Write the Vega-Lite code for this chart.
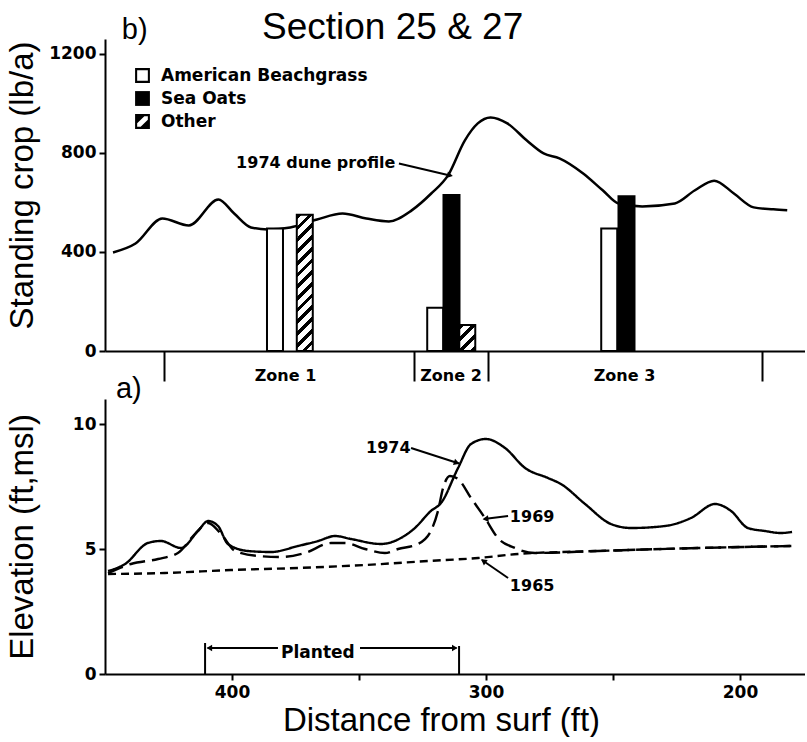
{
  "$schema": "https://vega.github.io/schema/vega-lite/v6.json",
  "autosize": {"type": "pad"},
  "padding": {"left": 5, "top": 8, "right": 0, "bottom": 0},
  "background": "white",
  "bounds": "flush",
  "spacing": 48,
  "title": {"text": "Section 25 & 27", "font": "Liberation Sans", "fontSize": 37, "fontWeight": "normal", "color": "black", "anchor": "start", "frame": "group", "dx": 157, "offset": -31},
  "config": {
    "view": {"stroke": null},
    "axis": {"domainColor": "black", "domainWidth": 2, "tickColor": "black", "tickWidth": 2, "labelFont": "DejaVu Sans", "labelFontWeight": "bold", "labelFontSize": 17, "labelColor": "black", "titleFont": "Liberation Sans", "titleFontSize": 33, "titleFontWeight": "normal", "titleColor": "black", "grid": false},
    "legend": {"padding": 0, "symbolSize": 220, "labelFont": "DejaVu Sans", "labelFontWeight": "bold", "labelFontSize": 17, "labelColor": "black", "labelLimit": 0, "rowPadding": 5, "labelOffset": 10}
  },
  "datasets": {
    "profile": [
      {"ft": 448.8, "crop": 398}, {"ft": 439.8, "crop": 434}, {"ft": 429.1, "crop": 535}, {"ft": 418.5, "crop": 507},
      {"ft": 406.7, "crop": 612}, {"ft": 400.4, "crop": 555}, {"ft": 393.7, "crop": 499}, {"ft": 387.0, "crop": 491},
      {"ft": 378.0, "crop": 499}, {"ft": 367.3, "crop": 531}, {"ft": 357.1, "crop": 555}, {"ft": 347.6, "crop": 535},
      {"ft": 338.6, "crop": 523}, {"ft": 329.5, "crop": 568}, {"ft": 321.7, "crop": 636}, {"ft": 315.0, "crop": 709},
      {"ft": 308.3, "crop": 850}, {"ft": 303.1, "crop": 919}, {"ft": 298.0, "crop": 943}, {"ft": 291.3, "crop": 919},
      {"ft": 283.5, "crop": 850}, {"ft": 276.8, "crop": 798}, {"ft": 270.5, "crop": 778}, {"ft": 261.0, "crop": 717},
      {"ft": 253.1, "crop": 648}, {"ft": 246.9, "crop": 596}, {"ft": 237.4, "crop": 584}, {"ft": 224.4, "crop": 596},
      {"ft": 216.5, "crop": 648}, {"ft": 208.7, "crop": 688}, {"ft": 200.8, "crop": 636}, {"ft": 192.9, "crop": 580},
      {"ft": 185.0, "crop": 572}, {"ft": 179.5, "crop": 568}
    ],
    "bars": [
      {"zone": "Zone 1", "species": "American Beachgrass", "ft": 384.1, "crop": 495},
      {"zone": "Zone 1", "species": "Other", "ft": 372.2, "crop": 550},
      {"zone": "Zone 2", "species": "American Beachgrass", "ft": 320.1, "crop": 175},
      {"zone": "Zone 2", "species": "Sea Oats", "ft": 313.6, "crop": 630},
      {"zone": "Zone 2", "species": "Other", "ft": 307.3, "crop": 105},
      {"zone": "Zone 3", "species": "American Beachgrass", "ft": 250.6, "crop": 495},
      {"zone": "Zone 3", "species": "Sea Oats", "ft": 243.7, "crop": 625}
    ],
    "zones": [
      {"label": "Zone 1", "ft": 379.9, "crop": -123},
      {"label": "Zone 2", "ft": 313.8, "crop": -123},
      {"label": "Zone 3", "ft": 244.5, "crop": -123}
    ],
    "topArrows": [{"name": "dune", "ft": 334.6, "crop": 757, "ft2": 314.2, "crop2": 709}],
    "topText": [{"label": "1974 dune profile", "ft": 336, "crop": 741}],
    "panelB": [{"label": "b)", "ft": 445.3, "crop": 1262}],
    "elev": [
      {"year": "1974", "ft": 448.8, "elev": 4.12}, {"year": "1974", "ft": 442.1, "elev": 4.4}, {"year": "1974", "ft": 433.1, "elev": 5.24},
      {"year": "1974", "ft": 428.0, "elev": 5.32}, {"year": "1974", "ft": 420.1, "elev": 5.04}, {"year": "1974", "ft": 413.4, "elev": 5.72},
      {"year": "1974", "ft": 409.4, "elev": 6.12}, {"year": "1974", "ft": 405.5, "elev": 5.92}, {"year": "1974", "ft": 401.6, "elev": 5.2},
      {"year": "1974", "ft": 393.7, "elev": 4.92}, {"year": "1974", "ft": 384.6, "elev": 4.88}, {"year": "1974", "ft": 374.0, "elev": 5.12},
      {"year": "1974", "ft": 366.1, "elev": 5.32}, {"year": "1974", "ft": 359.4, "elev": 5.52}, {"year": "1974", "ft": 353.1, "elev": 5.4},
      {"year": "1974", "ft": 341.3, "elev": 5.2}, {"year": "1974", "ft": 333.5, "elev": 5.44}, {"year": "1974", "ft": 328.0, "elev": 5.84},
      {"year": "1974", "ft": 321.7, "elev": 6.52}, {"year": "1974", "ft": 317.7, "elev": 6.84}, {"year": "1974", "ft": 311.0, "elev": 8.24},
      {"year": "1974", "ft": 305.9, "elev": 9.2}, {"year": "1974", "ft": 300.0, "elev": 9.4}, {"year": "1974", "ft": 292.5, "elev": 9.04},
      {"year": "1974", "ft": 284.6, "elev": 8.24}, {"year": "1974", "ft": 275.6, "elev": 7.84}, {"year": "1974", "ft": 270.5, "elev": 7.6},
      {"year": "1974", "ft": 261.0, "elev": 6.8}, {"year": "1974", "ft": 250.8, "elev": 6.0}, {"year": "1974", "ft": 242.9, "elev": 5.84},
      {"year": "1974", "ft": 229.5, "elev": 5.92}, {"year": "1974", "ft": 219.3, "elev": 6.24}, {"year": "1974", "ft": 209.8, "elev": 6.8},
      {"year": "1974", "ft": 203.5, "elev": 6.52}, {"year": "1974", "ft": 196.9, "elev": 5.84}, {"year": "1974", "ft": 190.2, "elev": 5.72},
      {"year": "1974", "ft": 183.9, "elev": 5.64}, {"year": "1974", "ft": 179.5, "elev": 5.68},
      {"year": "1969", "ft": 448.8, "elev": 4.04}, {"year": "1969", "ft": 439.8, "elev": 4.4}, {"year": "1969", "ft": 429.1, "elev": 4.6},
      {"year": "1969", "ft": 421.3, "elev": 4.84}, {"year": "1969", "ft": 414.6, "elev": 5.6}, {"year": "1969", "ft": 409.4, "elev": 6.04},
      {"year": "1969", "ft": 404.3, "elev": 5.6}, {"year": "1969", "ft": 398.8, "elev": 4.92}, {"year": "1969", "ft": 389.8, "elev": 4.72},
      {"year": "1969", "ft": 380.7, "elev": 4.68}, {"year": "1969", "ft": 371.3, "elev": 4.84}, {"year": "1969", "ft": 361.0, "elev": 5.24},
      {"year": "1969", "ft": 355.5, "elev": 5.24}, {"year": "1969", "ft": 347.6, "elev": 5.0}, {"year": "1969", "ft": 339.8, "elev": 4.84},
      {"year": "1969", "ft": 334.6, "elev": 5.0}, {"year": "1969", "ft": 326.8, "elev": 5.2}, {"year": "1969", "ft": 321.7, "elev": 5.72},
      {"year": "1969", "ft": 318.9, "elev": 6.52}, {"year": "1969", "ft": 316.9, "elev": 7.44}, {"year": "1969", "ft": 314.2, "elev": 7.92},
      {"year": "1969", "ft": 311.0, "elev": 7.8}, {"year": "1969", "ft": 305.9, "elev": 7.04}, {"year": "1969", "ft": 300.4, "elev": 6.24},
      {"year": "1969", "ft": 295.3, "elev": 5.44}, {"year": "1969", "ft": 288.6, "elev": 5.04}, {"year": "1969", "ft": 280.7, "elev": 4.84},
      {"year": "1969", "ft": 255.9, "elev": 4.92}, {"year": "1969", "ft": 216.5, "elev": 5.04}, {"year": "1969", "ft": 179.5, "elev": 5.12},
      {"year": "1965", "ft": 448.8, "elev": 4.0}, {"year": "1965", "ft": 426.4, "elev": 4.04}, {"year": "1965", "ft": 400.4, "elev": 4.16},
      {"year": "1965", "ft": 374.0, "elev": 4.24}, {"year": "1965", "ft": 347.6, "elev": 4.36}, {"year": "1965", "ft": 322.8, "elev": 4.52},
      {"year": "1965", "ft": 303.1, "elev": 4.64}, {"year": "1965", "ft": 287.4, "elev": 4.8}, {"year": "1965", "ft": 255.9, "elev": 4.92},
      {"year": "1965", "ft": 216.5, "elev": 5.04}, {"year": "1965", "ft": 179.5, "elev": 5.12}
    ],
    "botSegments": [
      {"name": "a74", "ft": 329.5, "elev": 9.04, "ft2": 310.6, "elev2": 8.42},
      {"name": "a69", "ft": 291.3, "elev": 6.32, "ft2": 300.8, "elev2": 6.2},
      {"name": "a65", "ft": 291.3, "elev": 3.84, "ft2": 301.6, "elev2": 4.56},
      {"name": "plL", "ft": 410.6, "elev": 0, "ft2": 410.6, "elev2": 1.24},
      {"name": "plR", "ft": 310.6, "elev": 0, "ft2": 310.6, "elev2": 1.12},
      {"name": "plHL", "ft": 381.9, "elev": 1.04, "ft2": 409.6, "elev2": 1.04},
      {"name": "plHR", "ft": 349.6, "elev": 1.04, "ft2": 311.6, "elev2": 1.04}
    ],
    "botHeads": [
      {"name": "a74", "ft": 311.5, "elev": 8.45},
      {"name": "a69", "ft": 300.2, "elev": 6.2},
      {"name": "a65", "ft": 301.0, "elev": 4.52},
      {"name": "plL", "ft": 408.9, "elev": 1.04},
      {"name": "plR", "ft": 312.3, "elev": 1.04}
    ],
    "botText": [
      {"label": "1974", "ft": 347.2, "elev": 8.84},
      {"label": "1969", "ft": 290.6, "elev": 6.08},
      {"label": "1965", "ft": 290.6, "elev": 3.32}
    ],
    "planted": [{"label": "Planted", "ft": 380.7, "elev": 0.64}],
    "panelA": [{"label": "a)", "ft": 445.7, "elev": 11.04}]
  },
  "vconcat": [
    {
      "width": 700,
      "height": 312,
      "encoding": {
        "x": {"field": "ft", "type": "quantitative", "scale": {"domain": [174.4, 450], "reverse": true, "nice": false, "zero": false},
              "axis": {"values": [428.3, 328.7, 299.2, 189.4], "labels": false, "tickSize": 30, "title": null}},
        "y": {"field": "crop", "type": "quantitative", "scale": {"domain": [0, 1260], "nice": false, "zero": false},
              "axis": {"values": [0, 400, 800, 1200], "format": "d", "tickSize": 6, "labelPadding": 3, "title": "Standing crop (lb/a)", "titleX": -66, "titleY": 146}}
      },
      "layer": [
        {
          "data": {"name": "profile"},
          "mark": {"type": "line", "color": "black", "strokeWidth": 2.5, "interpolate": "monotone"},
          "encoding": {"order": {"field": "ft", "sort": "descending"}}
        },
        {
          "data": {"name": "bars"},
          "transform": [{"filter": "datum.species === 'American Beachgrass'"}],
          "mark": {"type": "bar", "width": 16, "fill": "white", "stroke": "black", "strokeWidth": 2}
        },
        {
          "data": {"name": "bars"},
          "transform": [{"filter": "datum.species === 'Sea Oats'"}],
          "mark": {"type": "bar", "width": 16, "fill": "black", "stroke": "black", "strokeWidth": 2}
        },
        {
          "data": {"name": "bars"},
          "transform": [{"filter": "datum.species === 'Other' && datum.zone === 'Zone 1'"}],
          "mark": {"type": "bar", "width": 16, "stroke": "black", "strokeWidth": 2,
            "fill": {"gradient": "linear", "x1": 0, "y1": 0, "x2": 0.1297, "y2": 1.1024, "stops": [
              {"offset": 0, "color": "black"}, {"offset": 0.0308, "color": "black"}, {"offset": 0.0308, "color": "white"}, {"offset": 0.0769, "color": "white"},
              {"offset": 0.0769, "color": "black"}, {"offset": 0.1077, "color": "black"}, {"offset": 0.1077, "color": "white"}, {"offset": 0.1538, "color": "white"},
              {"offset": 0.1538, "color": "black"}, {"offset": 0.1846, "color": "black"}, {"offset": 0.1846, "color": "white"}, {"offset": 0.2308, "color": "white"},
              {"offset": 0.2308, "color": "black"}, {"offset": 0.2615, "color": "black"}, {"offset": 0.2615, "color": "white"}, {"offset": 0.3077, "color": "white"},
              {"offset": 0.3077, "color": "black"}, {"offset": 0.3385, "color": "black"}, {"offset": 0.3385, "color": "white"}, {"offset": 0.3846, "color": "white"},
              {"offset": 0.3846, "color": "black"}, {"offset": 0.4154, "color": "black"}, {"offset": 0.4154, "color": "white"}, {"offset": 0.4615, "color": "white"},
              {"offset": 0.4615, "color": "black"}, {"offset": 0.4923, "color": "black"}, {"offset": 0.4923, "color": "white"}, {"offset": 0.5385, "color": "white"},
              {"offset": 0.5385, "color": "black"}, {"offset": 0.5692, "color": "black"}, {"offset": 0.5692, "color": "white"}, {"offset": 0.6154, "color": "white"},
              {"offset": 0.6154, "color": "black"}, {"offset": 0.6462, "color": "black"}, {"offset": 0.6462, "color": "white"}, {"offset": 0.6923, "color": "white"},
              {"offset": 0.6923, "color": "black"}, {"offset": 0.7231, "color": "black"}, {"offset": 0.7231, "color": "white"}, {"offset": 0.7692, "color": "white"},
              {"offset": 0.7692, "color": "black"}, {"offset": 0.8, "color": "black"}, {"offset": 0.8, "color": "white"}, {"offset": 0.8462, "color": "white"},
              {"offset": 0.8462, "color": "black"}, {"offset": 0.8769, "color": "black"}, {"offset": 0.8769, "color": "white"}, {"offset": 0.9231, "color": "white"},
              {"offset": 0.9231, "color": "black"}, {"offset": 0.9538, "color": "black"}, {"offset": 0.9538, "color": "white"}, {"offset": 1, "color": "white"}
            ]}}
        },
        {
          "data": {"name": "bars"},
          "transform": [{"filter": "datum.species === 'Other' && datum.zone === 'Zone 2'"}],
          "mark": {"type": "bar", "width": 16, "stroke": "black", "strokeWidth": 2,
            "fill": {"gradient": "linear", "x1": 0, "y1": 0, "x2": 0.721, "y2": 1.1716, "stops": [
              {"offset": 0, "color": "black"}, {"offset": 0.1143, "color": "black"}, {"offset": 0.1143, "color": "white"}, {"offset": 0.2857, "color": "white"},
              {"offset": 0.2857, "color": "black"}, {"offset": 0.4, "color": "black"}, {"offset": 0.4, "color": "white"}, {"offset": 0.5714, "color": "white"},
              {"offset": 0.5714, "color": "black"}, {"offset": 0.6857, "color": "black"}, {"offset": 0.6857, "color": "white"}, {"offset": 0.8571, "color": "white"},
              {"offset": 0.8571, "color": "black"}, {"offset": 0.9714, "color": "black"}, {"offset": 0.9714, "color": "white"}, {"offset": 1, "color": "white"}
            ]}}
        },
        {
          "data": {"name": "bars"},
          "transform": [{"filter": "false"}],
          "mark": {"type": "point", "filled": true, "color": "black", "opacity": 1},
          "encoding": {
            "shape": {"field": "species", "type": "nominal",
              "scale": {"domain": ["American Beachgrass", "Sea Oats", "Other"],
                        "range": ["M-1,-1H1V1H-1Z M-0.72,-0.72V0.72H0.72V-0.72Z", "M-1,-1H1V1H-1Z", "M-1,-1H1V1H-1Z M-0.72,0.25L-0.72,0.72L-0.25,0.72L0.72,-0.25L0.72,-0.72L0.25,-0.72Z"]},
              "legend": {"title": null, "orient": "none", "legendX": 29, "legendY": 28, "symbolFillColor": "black", "symbolStrokeColor": "black", "symbolStrokeWidth": 0}}
          }
        },
        {
          "data": {"name": "zones"},
          "mark": {"type": "text", "font": "DejaVu Sans", "fontWeight": "bold", "fontSize": 16, "color": "black", "align": "center", "baseline": "alphabetic"},
          "encoding": {"text": {"field": "label"}}
        },
        {
          "data": {"name": "topArrows"},
          "mark": {"type": "rule", "color": "black", "strokeWidth": 2},
          "encoding": {"x2": {"field": "ft2"}, "y2": {"field": "crop2"}}
        },
        {
          "data": {"name": "topArrows"},
          "mark": {"type": "point", "shape": "triangle-right", "angle": 13, "filled": true, "color": "black", "size": 45, "opacity": 1},
          "encoding": {"x": {"field": "ft2", "type": "quantitative"}, "y": {"field": "crop2", "type": "quantitative"}}
        },
        {
          "data": {"name": "topText"},
          "mark": {"type": "text", "font": "DejaVu Sans", "fontWeight": "bold", "fontSize": 16, "color": "black", "align": "right", "baseline": "alphabetic"},
          "encoding": {"text": {"field": "label"}}
        },
        {
          "data": {"name": "panelB"},
          "mark": {"type": "text", "font": "Liberation Sans", "fontSize": 29, "color": "black", "align": "left", "baseline": "alphabetic"},
          "encoding": {"text": {"field": "label"}}
        }
      ]
    },
    {
      "width": 700,
      "height": 275,
      "encoding": {
        "x": {"field": "ft", "type": "quantitative", "scale": {"domain": [174.4, 450], "reverse": true, "nice": false, "zero": false},
              "axis": {"values": [400, 350, 300, 250, 200], "labelExpr": "datum.value % 100 === 0 ? datum.label : ''", "tickSize": 6, "labelPadding": 4, "title": "Distance from surf (ft)", "titleX": 336}},
        "y": {"field": "elev", "type": "quantitative", "scale": {"domain": [0, 11], "nice": false, "zero": false},
              "axis": {"values": [0, 5, 10], "tickSize": 6, "labelPadding": 3, "title": "Elevation  (ft,msl)", "titleX": -66}}
      },
      "layer": [
        {
          "data": {"name": "elev"},
          "mark": {"type": "line", "color": "black", "strokeWidth": 2.4, "interpolate": "monotone"},
          "encoding": {
            "strokeDash": {"field": "year", "type": "nominal", "scale": {"domain": ["1974", "1969", "1965"], "range": [[1, 0], [16, 7], [8, 5]]}, "legend": null},
            "order": {"field": "ft", "sort": "descending"}
          }
        },
        {
          "data": {"name": "botSegments"},
          "mark": {"type": "rule", "color": "black", "strokeWidth": 2},
          "encoding": {"x2": {"field": "ft2"}, "y2": {"field": "elev2"}}
        },
        {
          "data": {"name": "botHeads"},
          "transform": [{"filter": "datum.name === 'a74'"}],
          "mark": {"type": "point", "shape": "triangle-right", "angle": 18, "filled": true, "color": "black", "size": 45, "opacity": 1}
        },
        {
          "data": {"name": "botHeads"},
          "transform": [{"filter": "datum.name === 'a69'"}],
          "mark": {"type": "point", "shape": "triangle-left", "angle": -7, "filled": true, "color": "black", "size": 45, "opacity": 1}
        },
        {
          "data": {"name": "botHeads"},
          "transform": [{"filter": "datum.name === 'a65'"}],
          "mark": {"type": "point", "shape": "triangle-left", "angle": 35, "filled": true, "color": "black", "size": 45, "opacity": 1}
        },
        {
          "data": {"name": "botHeads"},
          "transform": [{"filter": "datum.name === 'plL'"}],
          "mark": {"type": "point", "shape": "triangle-left", "filled": true, "color": "black", "size": 40, "opacity": 1}
        },
        {
          "data": {"name": "botHeads"},
          "transform": [{"filter": "datum.name === 'plR'"}],
          "mark": {"type": "point", "shape": "triangle-right", "filled": true, "color": "black", "size": 40, "opacity": 1}
        },
        {
          "data": {"name": "botText"},
          "mark": {"type": "text", "font": "DejaVu Sans", "fontWeight": "bold", "fontSize": 16, "color": "black", "align": "left", "baseline": "alphabetic"},
          "encoding": {"text": {"field": "label"}}
        },
        {
          "data": {"name": "planted"},
          "mark": {"type": "text", "font": "DejaVu Sans", "fontWeight": "bold", "fontSize": 17, "color": "black", "align": "left", "baseline": "alphabetic"},
          "encoding": {"text": {"field": "label"}}
        },
        {
          "data": {"name": "panelA"},
          "mark": {"type": "text", "font": "Liberation Sans", "fontSize": 29, "color": "black", "align": "left", "baseline": "alphabetic"},
          "encoding": {"text": {"field": "label"}}
        }
      ]
    }
  ]
}
